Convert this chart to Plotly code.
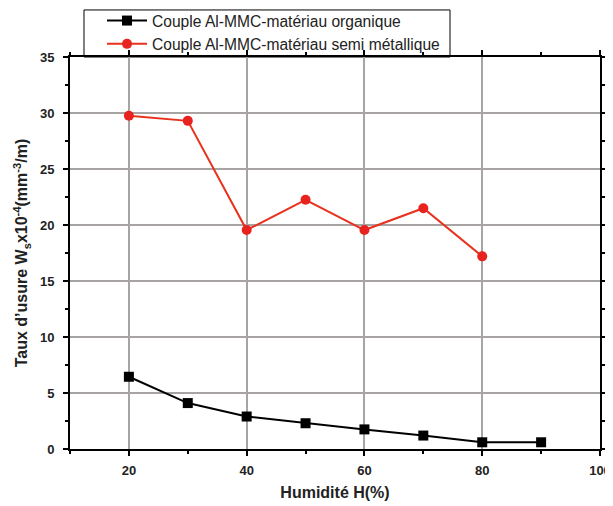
import plotly.graph_objects as go

humidity = [20, 30, 40, 50, 60, 70, 80, 90]
organique = [6.45, 4.1, 2.9, 2.3, 1.75, 1.2, 0.6, 0.6]
humidity_semi = [20, 30, 40, 50, 60, 70, 80]
semi_metallique = [29.75, 29.3, 19.55, 22.25, 19.55, 21.5, 17.2]

name_org = "Couple Al-MMC-matériau organique"
name_semi = "Couple Al-MMC-matériau semi métallique"

fig = go.Figure()
fig.add_trace(go.Scatter(
    x=humidity, y=organique, mode="lines+markers", name=name_org,
    line=dict(color="black", width=2),
    marker=dict(symbol="square", size=10, color="black"),
))
fig.add_trace(go.Scatter(
    x=humidity_semi, y=semi_metallique, mode="lines+markers", name=name_semi,
    line=dict(color="#e8321e", width=2),
    marker=dict(symbol="circle", size=10, color="#e8221e"),
))

axis_common = dict(
    showline=True, linecolor="black", linewidth=2, mirror="allticks",
    showgrid=True, gridcolor="#a9a4a4", gridwidth=1.5,
    ticks="outside", ticklen=5, tickwidth=1.5, tickcolor="black",
    tickfont=dict(family="Liberation Sans, Arial", size=13, color="#222", weight="bold"),
    zeroline=False, automargin=False,
)

fig.update_xaxes(
    range=[10, 100], tickvals=[20, 40, 60, 80, 100],
    minor=dict(tickvals=[10, 30, 50, 70, 90], ticks="outside", ticklen=3, tickcolor="black", showgrid=False),
    ticklabelstandoff=3,
    title=dict(text="Humidité H(%)", font=dict(family="Liberation Sans, Arial", size=16, color="#222", weight="bold"), standoff=10),
    **axis_common,
)
fig.update_yaxes(
    range=[0, 35], tickvals=[0, 5, 10, 15, 20, 25, 30, 35],
    minor=dict(dtick=2.5, ticks="outside", ticklen=3, tickcolor="black", showgrid=False),
    ticklabelstandoff=6,
    title=dict(text="Taux d’usure W<sub>s</sub>x10<sup>-4</sup>(mm<sup>-3</sup>/m)",
               font=dict(family="Liberation Sans, Arial", size=16, color="#222", weight="bold"), standoff=8),
    **axis_common,
)

# legend frame
fig.add_shape(type="rect", xref="paper", yref="paper",
              x0=0.0264, x1=0.717, y0=1.0, y1=1.12,
              line=dict(color="black", width=1), fillcolor="white", layer="below")

fig.update_layout(
    width=605, height=498,
    margin=dict(l=62, r=13, t=49, b=57, autoexpand=False),
    paper_bgcolor="white", plot_bgcolor="white",
    showlegend=True,
    legend=dict(
        x=0.0604, y=0.99, xref="paper", yref="paper", xanchor="left", yanchor="bottom",
        borderwidth=0, bgcolor="rgba(0,0,0,0)",
        font=dict(family="Liberation Sans, Arial", size=15.6, color="#222"),
        tracegroupgap=0, itemwidth=40,
    ),
)

fig.write_html("out.html")
